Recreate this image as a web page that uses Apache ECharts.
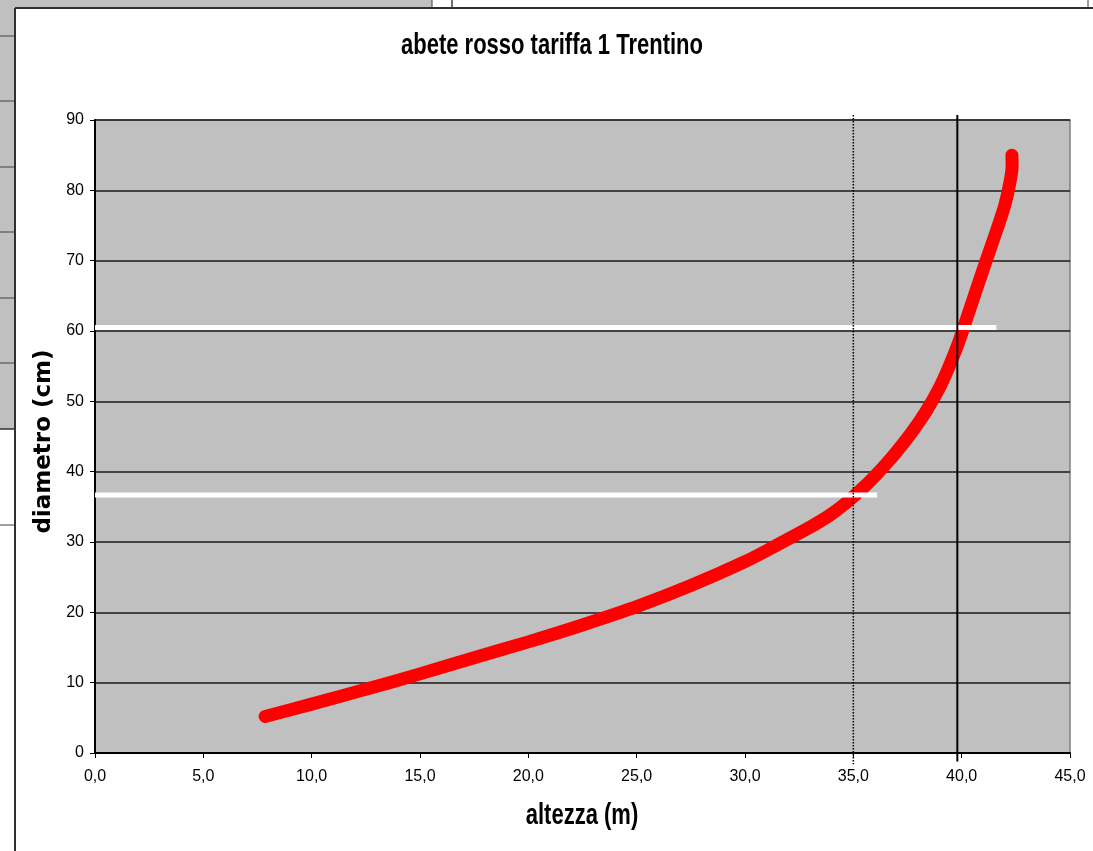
<!DOCTYPE html>
<html>
<head>
<meta charset="utf-8">
<title>abete rosso tariffa 1 Trentino</title>
<script src="https://cdn.jsdelivr.net/npm/echarts@6/dist/echarts.min.js"></script>
<style>
  html, body { margin: 0; padding: 0; background: #ffffff; }
  #chart { width: 1093px; height: 851px; }
</style>
</head>
<body>
<div id="chart"></div>
<script>
// Height (m) / diameter (cm) curve of the spruce volume tariff
const heightM = [7.85, 10, 12.5, 15, 17.5, 20, 22.5, 25, 27.5, 30, 31.5, 33, 33.5, 34, 34.5, 35, 35.5, 36, 36.5, 37, 37.72, 38.36, 38.92, 39.4, 39.83, 40.2, 41.13, 41.69, 42.0, 42.22, 42.33, 42.32];
const diamCm  = [5.2, 6.95, 9.05, 11.25, 13.55, 15.8, 18.2, 20.8, 23.8, 27.2, 29.6, 32.1, 33.0, 34.0, 35.15, 36.45, 37.85, 39.4, 41.05, 42.85, 45.7, 48.6, 51.6, 54.8, 58.1, 61.5, 70.0, 75.0, 78.0, 81.0, 83.5, 85.0];

// White reading guides: diameter level and the height where each stops
const guideLevels = [60.5, 36.7];
const guideEnds   = [41.6, 36.1];

// Vertical reference heights (dotted, solid)
const refHeights = [35, 39.8];
const refStyles  = ['dotted', 'solid'];

// Axis ticks
const xTicks = [0, 5, 10, 15, 20, 25, 30, 35, 40, 45];
const yTicks = [0, 10, 20, 30, 40, 50, 60, 70, 80, 90];

const titleText = 'abete rosso tariffa 1 Trentino';
const xName = 'altezza (m)';
const yName = 'diametro (cm)';

const sans = '"Liberation Sans", Arial, sans-serif';

const chart = echarts.init(document.getElementById('chart'), null, { renderer: 'canvas' });

const guideSeries = guideLevels.map((lvl, i) => ({
  type: 'line',
  data: [[xTicks[0], lvl], [guideEnds[i], lvl]],
  symbol: 'none',
  silent: true,
  z: 3,
  lineStyle: { color: '#ffffff', width: 5, cap: 'butt' }
}));

// Spreadsheet cells around the embedded chart
const sheetLines = [36, 101, 167, 232, 298, 363, 525].map(y => ({
  type: 'line', shape: { x1: 0, y1: y, x2: 15, y2: y },
  style: { stroke: '#404040', lineWidth: 1 }, silent: true
}));

// Title and horizontal axis caption, drawn slightly tall as in the sheet
const tallText = (text, x, y) => ({
  type: 'text', x: x, y: y, scaleY: 1.3, silent: true, z: 10,
  style: {
    text: text, x: 0, y: 0,
    align: 'center', verticalAlign: 'top',
    font: 'bold 22px ' + sans, fill: '#000'
  }
});

chart.setOption({
  animation: false,
  backgroundColor: '#ffffff',
  graphic: [
    { type: 'rect', shape: { x: 0, y: 0, width: 15, height: 429 }, style: { fill: '#C0C0C0' }, silent: true },
    { type: 'rect', shape: { x: 0, y: 0, width: 432, height: 8 }, style: { fill: '#C0C0C0' }, silent: true },
    ...sheetLines,
    { type: 'line', shape: { x1: 0, y1: 429, x2: 15, y2: 429 }, style: { stroke: '#303030', lineWidth: 1.5 }, silent: true },
    { type: 'line', shape: { x1: 432, y1: 0, x2: 432, y2: 8 }, style: { stroke: '#404040', lineWidth: 1 }, silent: true },
    { type: 'line', shape: { x1: 452, y1: 0, x2: 452, y2: 8 }, style: { stroke: '#404040', lineWidth: 1.5 }, silent: true },
    { type: 'line', shape: { x1: 1088, y1: 0, x2: 1088, y2: 8 }, style: { stroke: '#404040', lineWidth: 1 }, silent: true },
    { type: 'line', shape: { x1: 15, y1: 8, x2: 15, y2: 851 }, style: { stroke: '#303030', lineWidth: 2 }, silent: true },
    { type: 'line', shape: { x1: 15, y1: 8, x2: 1093, y2: 8 }, style: { stroke: '#303030', lineWidth: 2 }, silent: true },
    tallText(titleText, 552, 32),
    tallText(xName, 582, 802)
  ],
  grid: {
    left: 95, top: 120, right: 23, bottom: 98,
    show: true,
    backgroundColor: '#C0C0C0',
    borderColor: '#808080',
    borderWidth: 1.5
  },
  xAxis: {
    type: 'value',
    min: xTicks[0], max: xTicks[xTicks.length - 1], interval: 5,
    axisLine: { onZero: false, lineStyle: { color: '#000', width: 2 } },
    axisTick: { show: true, length: 5, lineStyle: { color: '#000', width: 1 } },
    axisLabel: {
      fontFamily: sans, fontSize: 16, color: '#000', margin: 16,
      formatter: v => v.toFixed(1).replace('.', ',')
    },
    splitLine: { show: false }
  },
  yAxis: {
    type: 'value',
    min: yTicks[0], max: yTicks[yTicks.length - 1], interval: 10,
    name: yName,
    nameLocation: 'middle',
    nameGap: 37,
    nameTextStyle: { fontFamily: '"DejaVu Sans", sans-serif', fontWeight: 'bold', fontSize: 23, color: '#000', padding: [0, 10, 0, 0] },
    axisLine: { onZero: false, lineStyle: { color: '#000', width: 2 } },
    axisTick: { show: true, length: 5, lineStyle: { color: '#000', width: 1 } },
    axisLabel: { fontFamily: sans, fontSize: 16, color: '#000', margin: 11 },
    splitLine: { show: true, lineStyle: { color: '#1a1a1a', width: 1.5 } }
  },
  series: [
    {
      type: 'line',
      data: heightM.map((h, i) => [h, diamCm[i]]),
      smooth: 0.3,
      symbol: 'none',
      silent: true,
      z: 2,
      lineStyle: { color: '#ff0000', width: 13, cap: 'round', join: 'round' }
    },
    ...guideSeries,
    {
      type: 'custom',
      data: refHeights.map((h, i) => [h, i]),
      silent: true,
      z: 4,
      renderItem: (params, api) => {
        const x = api.value(0);
        const dotted = refStyles[api.value(1)] === 'dotted';
        const top = api.coord([x, 90.7]);
        const bottom = api.coord([x, dotted ? -1.6 : -1.2]);
        return {
          type: 'line',
          shape: { x1: top[0], y1: top[1], x2: bottom[0], y2: bottom[1] },
          style: dotted
            ? { stroke: '#000', lineWidth: 1.5, lineDash: [1.5, 1.5] }
            : { stroke: '#000', lineWidth: 2 }
        };
      }
    }
  ]
});
</script>
</body>
</html>
